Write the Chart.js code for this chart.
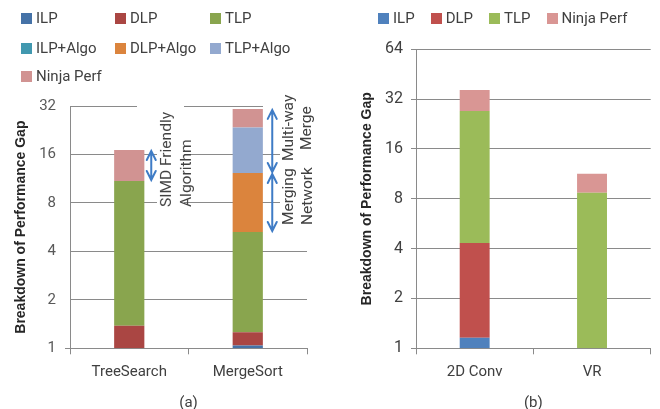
<!DOCTYPE html>
<html lang="en">
<head>
<meta charset="UTF-8" />
<title>Breakdown of Performance Gap</title>
<script src="https://cdn.jsdelivr.net/npm/chart.js@4.4.0/dist/chart.umd.min.js"></script>
<style>
  body { margin: 0; background: #fff; }
  #wrap { position: relative; width: 660px; height: 409px; overflow: hidden; font-family: Roboto, sans-serif; }
  canvas { position: absolute; top: 0; }
  #chartA { left: 0; }
  #chartB { left: 330px; }
  .item { position: absolute; display: flex; align-items: center; white-space: nowrap; font-size: 15px; line-height: 18px; }
  .box { width: 11px; height: 11px; margin-right: 4px; }
  #legendB { position: absolute; left: 378px; top: 9px; display: flex; gap: 16px; }
  #legendB .item { position: static; color: #404040; }
  #legendA .item { color: #404040; }
  .note { position: absolute; writing-mode: vertical-rl; transform: rotate(180deg); font-size: 15.5px; color: #404040; white-space: nowrap; }
</style>
</head>
<body>
<div id="wrap">
  <canvas id="chartA" width="330" height="409"></canvas>
  <canvas id="chartB" width="330" height="409"></canvas>
  <div id="legendA"></div>
  <div id="legendB"></div>
  <div class="note" style="left:155.75px; top:106.7px; height:100px; line-height:20.5px;">SIMD Friendly<br>Algorithm</div>
  <div class="note" style="left:279.1px; top:88px; height:80px; line-height:18.4px; text-align:center;">Multi-way<br>Merge</div>
  <div class="note" style="left:278.5px; top:145px; height:80px; line-height:19px;">Merging<br>Network</div>
</div>

<script>
  // (a) levels where each segment tops out, per category (null = no segment)
  const categoriesA = ['TreeSearch', 'MergeSort'];
  const ilpA     = [null, 1.04];
  const dlpA     = [1.38, 1.26];
  const tlpA     = [10.95, 5.28];
  const ilpAlgoA = [null, null];
  const dlpAlgoA = [null, 12.27];
  const tlpAlgoA = [null, 23.5];
  const ninjaA   = [17.05, 30.7];
  const yTicksA  = [1, 2, 4, 8, 16, 32];

  // (b)
  const categoriesB = ['2D Conv', 'VR'];
  const ilpB   = [1.16, null];
  const dlpB   = [4.33, null];
  const tlpB   = [27.1, 8.71];
  const ninjaB = [36.3, 11.35];
  const yTicksB = [1, 2, 4, 8, 16, 32, 64];

  const gridGrey = '#8a8a8a';
  const arrowBlue = '#3f7cc6';

  const seriesA = [
    { label: 'ILP', levels: ilpA, color: '#4572a7' },
    { label: 'DLP', levels: dlpA, color: '#aa4643' },
    { label: 'TLP', levels: tlpA, color: '#89a54e' },
    { label: 'ILP+Algo', levels: ilpAlgoA, color: '#4198af' },
    { label: 'DLP+Algo', levels: dlpAlgoA, color: '#db843d' },
    { label: 'TLP+Algo', levels: tlpAlgoA, color: '#93a9cf' },
    { label: 'Ninja Perf', levels: ninjaA, color: '#d19392' }
  ];
  const seriesB = [
    { label: 'ILP', levels: ilpB, color: '#4f81bd' },
    { label: 'DLP', levels: dlpB, color: '#c0504d' },
    { label: 'TLP', levels: tlpB, color: '#9bbb59' },
    { label: 'Ninja Perf', levels: ninjaB, color: '#d99694' }
  ];

  // double arrows next to the MergeSort / TreeSearch bars
  const arrowsA = [
    { cat: 0, from: tlpA[0], to: ninjaA[0], dx: 22 },
    { cat: 1, from: dlpAlgoA[1], to: ninjaA[1], dx: 24.5 },
    { cat: 1, from: tlpA[1], to: dlpAlgoA[1], dx: 24.5 }
  ];
  // white text-box backgrounds that hide the gridlines
  const noteBoxesA = [
    [137, 99, 20, 14], [157, 99, 27, 113],
    [263, 99, 47, 14], [280, 99, 33, 140]
  ];

  // floating segments: each one starts where the previous one ended
  function stackUp(series, n) {
    const base = new Array(n).fill(1);
    return series.map(s => ({
      label: s.label,
      data: s.levels.map((top, j) => {
        if (top == null) return null;
        const seg = [base[j], top];
        base[j] = top;
        return seg;
      }),
      backgroundColor: s.color,
      borderWidth: 0,
      barPercentage: 0.255,
      categoryPercentage: 1
    }));
  }

  const noteBoxes = {
    id: 'noteBoxes',
    beforeDatasetsDraw(chart, args, opts) {
      const ctx = chart.ctx;
      ctx.save();
      ctx.fillStyle = '#fff';
      (opts.boxes || []).forEach(b => ctx.fillRect(b[0], b[1], b[2], b[3]));
      ctx.restore();
    }
  };

  const doubleArrows = {
    id: 'doubleArrows',
    afterDatasetsDraw(chart, args, opts) {
      const ctx = chart.ctx, x = chart.scales.x, y = chart.scales.y;
      ctx.save();
      ctx.strokeStyle = arrowBlue;
      ctx.lineWidth = 2;
      ctx.lineCap = 'round';
      (opts.arrows || []).forEach(a => {
        const px = x.getPixelForValue(a.cat) + a.dx;
        const y1 = y.getPixelForValue(a.from) - 1;
        const y2 = y.getPixelForValue(a.to) + 1;
        ctx.beginPath();
        ctx.moveTo(px, y1); ctx.lineTo(px, y2);
        ctx.moveTo(px - 4.5, y2 + 9); ctx.lineTo(px, y2); ctx.lineTo(px + 4.5, y2 + 9);
        ctx.moveTo(px - 4.5, y1 - 9); ctx.lineTo(px, y1); ctx.lineTo(px + 4.5, y1 - 9);
        ctx.stroke();
      });
      ctx.restore();
    }
  };

  function makeChart(id, o) {
    return new Chart(document.getElementById(id), {
      type: 'bar',
      data: { labels: o.categories, datasets: stackUp(o.series, o.categories.length) },
      options: {
        responsive: false,
        animation: false,
        layout: { padding: { top: o.top, right: o.right, left: 0, bottom: 0 } },
        plugins: {
          legend: { display: false },
          tooltip: { enabled: false },
          noteBoxes: { boxes: o.boxes },
          doubleArrows: { arrows: o.arrows }
        },
        scales: {
          x: {
            stacked: true,
            afterFit: s => { s.height = o.xHeight; },
            grid: { offset: true, drawOnChartArea: false, tickLength: 6, color: gridGrey },
            border: { color: gridGrey },
            ticks: { padding: 9, color: o.textColor, font: { family: 'Roboto', size: 15 } },
            title: {
              display: true, text: o.caption, color: o.textColor,
              font: { family: 'Roboto', size: 15 }, padding: { top: 0, bottom: -3 }
            }
          },
          y: {
            type: 'logarithmic',
            min: 1,
            max: o.yTicks[o.yTicks.length - 1],
            afterFit: s => { s.width = o.yWidth; },
            afterBuildTicks: s => { s.ticks = o.yTicks.map(v => ({ value: v })); },
            grid: { color: gridGrey, tickLength: 5, tickColor: o.tickMarkColor },
            border: { color: gridGrey },
            ticks: { padding: o.yPad, color: o.tickColor, font: { family: 'Roboto', size: o.tickSize }, callback: v => String(v) },
            title: {
              display: true, text: 'Breakdown of Performance Gap', color: '#262626',
              font: { family: 'Liberation Sans', size: 14, weight: 'bold' },
              padding: { top: o.titlePad }
            }
          }
        }
      },
      plugins: [noteBoxes, doubleArrows]
    });
  }

  const chartA = makeChart('chartA', {
    categories: categoriesA, series: seriesA, yTicks: yTicksA,
    top: 106, right: 23, xHeight: 60.7, yWidth: 70, yPad: 9, titlePad: 12.6,
    caption: '(a)', textColor: '#404040', tickColor: '#595959', tickSize: 15,
    tickMarkColor: ctx => ctx.index === 0 ? gridGrey : 'rgba(0,0,0,0)',
    boxes: noteBoxesA, arrows: arrowsA
  });

  const chartB = makeChart('chartB', {
    categories: categoriesB, series: seriesB, yTicks: yTicksB,
    top: 49.3, right: 9.3, xHeight: 60.7, yWidth: 86, yPad: 8, titlePad: 28.6,
    caption: '(b)', textColor: '#404040', tickColor: '#404040', tickSize: 16,
    tickMarkColor: gridGrey, boxes: [], arrows: []
  });

  // legends built from the datasets
  function legendItem(ds) {
    const item = document.createElement('div');
    item.className = 'item';
    const box = document.createElement('span');
    box.className = 'box';
    box.style.background = ds.backgroundColor;
    item.appendChild(box);
    item.appendChild(document.createTextNode(ds.label));
    return item;
  }

  const legendCols = [21, 115, 210];
  const legendRows = [18, 48, 76];
  const legendA = document.getElementById('legendA');
  chartA.data.datasets.forEach((ds, i) => {
    const item = legendItem(ds);
    item.style.left = legendCols[i % 3] + 'px';
    item.style.top = (legendRows[Math.floor(i / 3)] - 9) + 'px';
    legendA.appendChild(item);
  });

  const legendB = document.getElementById('legendB');
  chartB.data.datasets.forEach(ds => legendB.appendChild(legendItem(ds)));
</script>
</body>
</html>
